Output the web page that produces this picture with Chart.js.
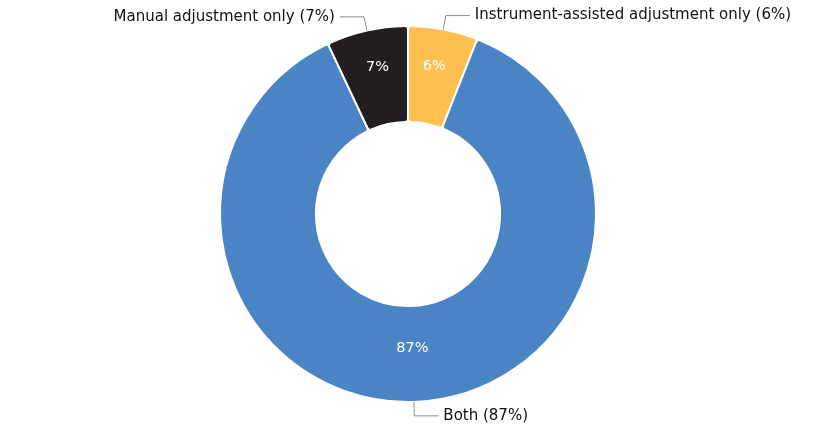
<!DOCTYPE html>
<html>
<head>
<meta charset="utf-8">
<script src="https://cdn.jsdelivr.net/npm/chart.js"></script>
<style>
  body { margin: 0; background: #fff; }
  canvas { display: block; }
</style>
</head>
<body>
<canvas id="myChart" width="815" height="438"></canvas>
<script>
// data, clockwise from the top
var labels = ["Instrument-assisted adjustment only", "Both", "Manual adjustment only"];
var values = [6, 87, 7];
var colors = ["#FFBF4F", "#4A84C4", "#231F20"];

// draws the % inside each slice and the leader-line labels outside
var sliceLabels = {
  id: "sliceLabels",
  afterDatasetsDraw: function (chart) {
    var ctx = chart.ctx;
    var meta = chart.getDatasetMeta(0);
    ctx.save();
    meta.data.forEach(function (arc, i) {
      var p = arc.getProps(["x", "y", "startAngle", "endAngle", "innerRadius", "outerRadius"], true);
      var mid = (p.startAngle + p.endAngle) / 2;
      var c = Math.cos(mid), s = Math.sin(mid);

      // value inside
      var r = (p.innerRadius + p.outerRadius) / 2;
      var shift = values[i] > 50 ? -6 : -10;
      ctx.fillStyle = "#ffffff";
      ctx.font = "14.5px 'DejaVu Sans'";
      ctx.textAlign = "center";
      ctx.textBaseline = "middle";
      ctx.fillText(values[i] + "%", p.x + c * r, p.y + s * r + shift);

      // leader line
      var x0 = p.x + c * p.outerRadius, y0 = p.y + s * p.outerRadius;
      var x1 = p.x + c * (p.outerRadius + 14), y1 = p.y + s * (p.outerRadius + 14);
      var dir = c >= 0 ? 1 : -1;
      var x2 = x1 + dir * 24;
      ctx.strokeStyle = "#8c8c8c";
      ctx.lineWidth = 1;
      ctx.beginPath();
      ctx.moveTo(x0, y0);
      ctx.lineTo(x1, y1);
      ctx.lineTo(x2, y1);
      ctx.stroke();

      ctx.fillStyle = "#111111";
      ctx.font = "15px 'DejaVu Sans'";
      ctx.textAlign = dir > 0 ? "left" : "right";
      ctx.fillText(labels[i] + " (" + values[i] + "%)", x2 + dir * 5, y1);
    });
    ctx.restore();
  }
};

var ctx = document.getElementById("myChart").getContext("2d");
var myChart = new Chart(ctx, {
  type: "doughnut",
  data: {
    labels: labels,
    datasets: [
      {
        data: values,
        backgroundColor: colors,
        borderColor: "#ffffff",
        borderWidth: 2,
        borderRadius: 3,
      },
    ],
  },
  options: {
    responsive: false,
    animation: false,
    cutout: "49%",
    layout: {
      padding: { top: 25, bottom: 35, left: 1, right: 0 },
    },
    plugins: {
      legend: { display: false },
      tooltip: { enabled: false },
    },
  },
  plugins: [sliceLabels],
});
</script>
</body>
</html>
